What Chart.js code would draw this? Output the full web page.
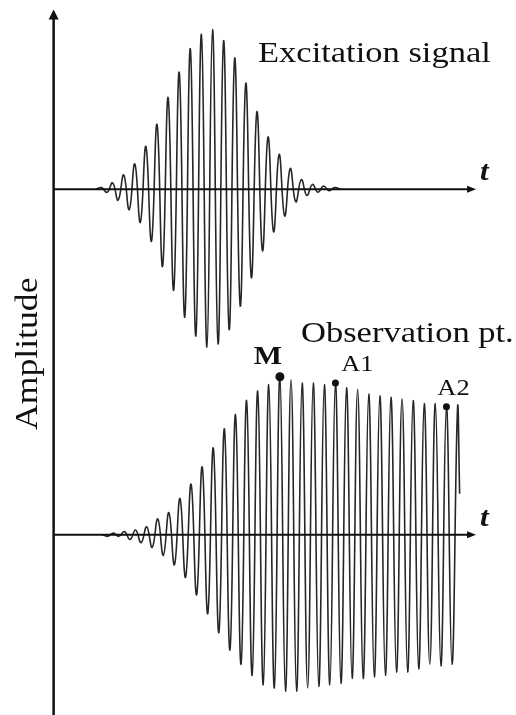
<!DOCTYPE html>
<html>
<head>
<meta charset="utf-8">
<title>Excitation signal and observation point</title>
<script src="https://cdn.jsdelivr.net/npm/chart.js@4.4.0/dist/chart.umd.min.js"></script>
<style>
  html, body { margin: 0; padding: 0; background: #fff; }
  #wrap { width: 516px; height: 715px; position: relative; }
</style>
</head>
<body>
<div id="wrap"><canvas id="wave-chart"></canvas></div>
<script>
// time is counted in carrier periods, t = 0 sits on the amplitude axis
// each array holds the successive half-cycle peaks (signed)
const HALF_PERIOD = 0.5;

// excitation signal (gaussian-like burst)
const EXC_START = 3.81;
const excPeaks = [0, 1, -2, 4, -7, 9, -13, 16, -21, 27, -33, 41, -49, 58, -64, 74, -81, 89, -93, 98,
    -100, 101, -98, 94, -89, 83, -74, 67, -56, 49, -39, 33, -27, 22, -17, 13, -8, 6, -4, 3,
    -2, 2, -1, 1, 0];

// response at the observation point
const OBS_START = 4.38;
const obsPeaks = [0, -1, 1, -1, 2, -3, 3, -5, 5, -8, 10, -13, 14, -19, 23, -27, 32, -38, 43, -50,
    55, -62, 67, -73, 76, -82, 85, -89, 91, -95, 95, -97, 100, -99, 98, -99, 96, -97, 96, -96,
    95, -95, 96, -94, 93, -91, 92, -91, 89, -90, 88, -89, 87, -87, 86, -87, 85, -85, 83, -82,
    83, -83, 81, -82, 80];
// the trace stops part way down after the last peak
const OBS_TAIL_T = 36.57;
const OBS_TAIL_A = 26;

// marked peaks on the observation trace
const markNames = ['M', 'A1', 'A2'];
const markIndex = [32, 42, 62];
const markRadius = [4.5, 3.5, 3.5];

// axis extents (time in periods, amplitude in the same units as the peaks)
const T_MIN = -4.425;
const T_MAX = 41.24;
const T_AXIS_END = 38.05;
const AMP_AXIS_TOP = 113.7;

const SERIF = '"Liberation Serif", "Times New Roman", serif';
const INK = '#111';
const WAVE = '#262626';


// turns a peak list into {x, y} points
function toPoints(start, peaks) {
    const pts = [];
    for (let i = 0; i < peaks.length; i++) {
        pts.push({ x: start + i * HALF_PERIOD, y: peaks[i] });
    }
    return pts;
}

const excData = toPoints(EXC_START, excPeaks);
const obsData = toPoints(OBS_START, obsPeaks);
obsData.push({ x: OBS_TAIL_T, y: OBS_TAIL_A });

const markData = [];
for (let i = 0; i < markIndex.length; i++) {
    markData.push(obsData[markIndex[i]]);
}


// little filled arrow head
function arrowHead(ctx, tipX, tipY, dx, dy, len, half) {
    const bx = tipX - dx * len, by = tipY - dy * len;
    ctx.beginPath();
    ctx.moveTo(tipX, tipY);
    ctx.lineTo(bx - dy * half, by + dx * half);
    ctx.lineTo(bx + dy * half, by - dx * half);
    ctx.closePath();
    ctx.fill();
}

// text a bit wider than the font's own metrics, like the original figure
function stretchText(ctx, text, x, y, font, align, angle) {
    ctx.save();
    ctx.translate(x, y);
    if (angle) ctx.rotate(angle);
    ctx.scale(1.15, 1);
    ctx.font = font;
    ctx.textAlign = align;
    ctx.textBaseline = 'alphabetic';
    ctx.fillText(text, 0, 0);
    ctx.restore();
}


const diagramPlugin = {
    id: 'diagram',
    afterDatasetsDraw(chart) {
        const ctx = chart.ctx;
        const xs = chart.scales.x;
        const yE = chart.scales.yExc;
        const yO = chart.scales.yObs;
        const x0 = xs.getPixelForValue(0);
        const xEnd = xs.getPixelForValue(T_AXIS_END);
        const yTop = yE.getPixelForValue(AMP_AXIS_TOP);

        ctx.save();
        ctx.strokeStyle = INK;
        ctx.fillStyle = INK;

        // amplitude axis
        ctx.lineWidth = 2.5;
        ctx.beginPath();
        ctx.moveTo(x0, chart.height);
        ctx.lineTo(x0, yTop + 8);
        ctx.stroke();
        arrowHead(ctx, x0, yTop, 0, -1, 10, 5);

        // the two time axes
        ctx.lineWidth = 2;
        [yE, yO].forEach(function(ys) {
            const y = ys.getPixelForValue(0);
            ctx.beginPath();
            ctx.moveTo(x0, y);
            ctx.lineTo(xEnd - 6, y);
            ctx.stroke();
            arrowHead(ctx, xEnd, y, 1, 0, 9, 3.5);
            stretchText(ctx, 't', xEnd + 4, y - 9, 'bold italic 27px ' + SERIF, 'left', 0);
        });

        // titles
        stretchText(ctx, 'Excitation signal', 258, 62, '30px ' + SERIF, 'left', 0);
        stretchText(ctx, 'Observation pt.', 301, 342, '30px ' + SERIF, 'left', 0);
        stretchText(ctx, 'Amplitude', 37, 430, '31px ' + SERIF, 'left', -Math.PI / 2);

        // names of the marked peaks
        const fonts = ['bold 26px ' + SERIF, '23px ' + SERIF, '23px ' + SERIF];
        const offX = [-12, 22, 7];
        const offY = [-13, -12, -12];
        for (let i = 0; i < markData.length; i++) {
            const px = xs.getPixelForValue(markData[i].x);
            const py = yO.getPixelForValue(markData[i].y);
            stretchText(ctx, markNames[i], px + offX[i], py + offY[i], fonts[i], 'center', 0);
        }
        ctx.restore();
    }
};


const ctx = document.getElementById('wave-chart').getContext('2d');
new Chart(ctx, {
    type: 'line',
    data: {
        datasets: [
            {
                label: 'marks',
                type: 'scatter',
                data: markData,
                yAxisID: 'yObs',
                pointRadius: markRadius,
                pointBackgroundColor: INK,
                pointBorderWidth: 0
            },
            {
                label: 'excitation',
                data: excData,
                yAxisID: 'yExc',
                borderColor: WAVE,
                borderWidth: 1.6,
                pointRadius: 0,
                tension: 0.45,
                fill: false
            },
            {
                label: 'observation',
                data: obsData,
                yAxisID: 'yObs',
                borderColor: WAVE,
                borderWidth: 1.6,
                pointRadius: 0,
                tension: 0.45,
                fill: false
            }
        ]
    },
    options: {
        responsive: true,
        maintainAspectRatio: false,
        animation: false,
        layout: { padding: 0 },
        plugins: {
            legend: { display: false },
            tooltip: { enabled: false }
        },
        scales: {
            x: { type: 'linear', min: T_MIN, max: T_MAX, display: false },
            yExc: { type: 'linear', min: -330, max: 116.875, display: false },
            yObs: { type: 'linear', min: -111.25, max: 335.625, display: false }
        }
    },
    plugins: [diagramPlugin]
});
</script>
</body>
</html>
